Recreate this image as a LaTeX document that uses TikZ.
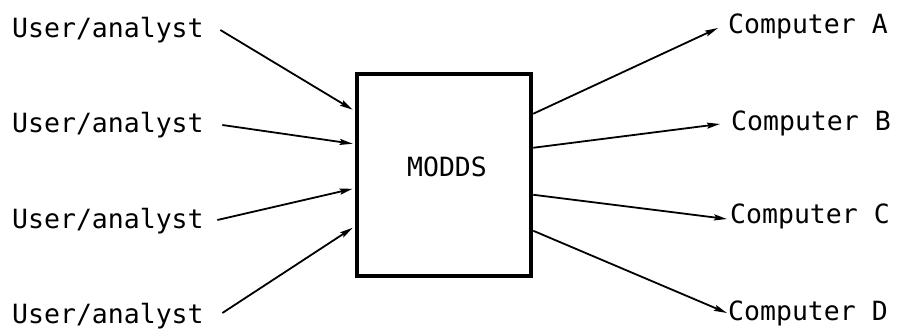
\documentclass[tikz,border=0pt]{standalone}
\usepackage{fontspec}
\setmonofont{DejaVu Sans Mono}
\usetikzlibrary{arrows.meta,calc}
\begin{document}
\begin{tikzpicture}[x=1pt,y=-1pt,
  lbl/.style={font=\ttfamily\fontsize{26.5}{30}\selectfont, inner sep=0pt, anchor=base west},
  modbox/.style={draw, line width=4.5pt, minimum width=174pt, minimum height=202pt, inner sep=0pt},
  flow/.style={line width=1.8pt, -{Stealth[length=13pt,width=6pt,inset=2pt]}}]
\useasboundingbox (0,0) rectangle (897,333);

% central box
\node[modbox] (m) at (444,175) {};
\node[lbl, anchor=center] (t) at ($(m.center)+(3,-8)$) {MODDS};

% users on the left
\node[lbl] (u1) at (12,37)  {User/analyst};
\node[lbl] (u2) at (12,132) {User/analyst};
\node[lbl] (u3) at (12,228) {User/analyst};
\node[lbl] (u4) at (12,323) {User/analyst};

% computers on the right
\node[lbl] (c1) at (728,33)  {Computer A};
\node[lbl] (c2) at (731,130) {Computer B};
\node[lbl] (c3) at (730,223) {Computer C};
\node[lbl] (c4) at (728,320) {Computer D};

% inputs into the box
\draw[flow] ($(u1.base east)+(16.5,-7)$)  -- ($(m.north west)+(-2,38)$);
\draw[flow] ($(u2.base east)+(18.5,-7)$)  -- ($(m.north west)+(-2,72)$);
\draw[flow] ($(u3.base east)+(13.5,-8)$)  -- ($(m.north west)+(-2,117)$);
\draw[flow] ($(u4.base east)+(18.5,-10)$) -- ($(m.north west)+(-2,156)$);

% outputs from the box
\draw[flow] ($(m.north east)+(0,42)$)  -- ($(c1.base west)+(-10,-5)$);
\draw[flow] ($(m.north east)+(0,76)$)  -- ($(c2.base west)+(-11,-6)$);
\draw[flow] ($(m.north east)+(0,123)$) -- ($(c3.base west)+(-3,-4)$);
\draw[flow] ($(m.north east)+(0,159)$) -- ($(c4.base west)+(-1,-7)$);
\end{tikzpicture}
\end{document}
